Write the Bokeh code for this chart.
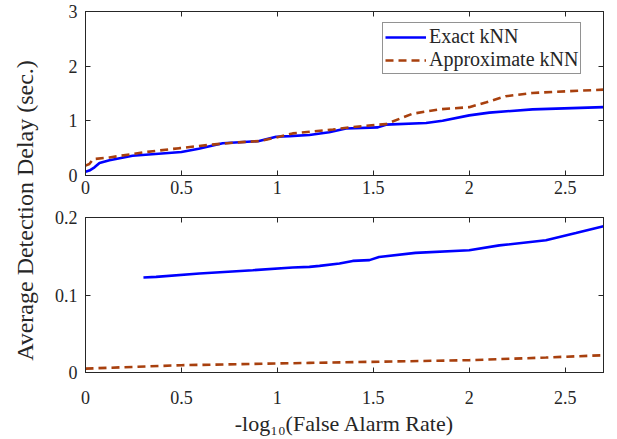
from math import pi
from bokeh.plotting import figure
from bokeh.models import Range1d, LinearAxis, FixedTicker, Label, Legend, LegendItem
from bokeh.layouts import row, column
from bokeh.embed import file_html
from bokeh.resources import INLINE

# ---------------- data ----------------
x_ticks = [0, 0.5, 1, 1.5, 2, 2.5]
x_tick_labels = ["0", "0.5", "1", "1.5", "2", "2.5"]
top_y_ticks = [0, 1, 2, 3]
top_y_tick_labels = ["0", "1", "2", "3"]
bot_y_ticks = [0, 0.1, 0.2]
bot_y_tick_labels = ["0", "0.1", "0.2"]

series_names = ["Exact kNN", "Approximate kNN"]
x_label = "-log\u2081\u2080(False Alarm Rate)"
y_label = "Average Detection Delay (sec.)"

# top panel
top_exact_x = [0, 0.02, 0.047, 0.073, 0.125, 0.245, 0.5, 0.59, 0.715, 0.905, 0.994,
               1.063, 1.167, 1.27, 1.358, 1.524, 1.566, 1.775, 1.861, 2.0, 2.105, 2.33, 2.7]
top_exact_y = [0.07, 0.09, 0.15, 0.23, 0.28, 0.36, 0.43, 0.49, 0.59, 0.63, 0.71,
               0.72, 0.74, 0.79, 0.86, 0.88, 0.93, 0.96, 1.00, 1.10, 1.15, 1.21, 1.25]
top_approx_x = [0, 0.02, 0.04, 0.125, 0.316, 0.49, 0.646, 0.768, 0.905, 0.99, 1.08,
                1.29, 1.376, 1.463, 1.566, 1.705, 1.845, 2.0, 2.09, 2.19, 2.33, 2.505, 2.7]
top_approx_y = [0.18, 0.21, 0.30, 0.33, 0.43, 0.50, 0.56, 0.60, 0.63, 0.69, 0.77,
                0.84, 0.88, 0.91, 0.94, 1.13, 1.21, 1.25, 1.34, 1.45, 1.51, 1.54, 1.57]

# bottom panel
bot_exact_x = [0.302, 0.368, 0.594, 0.872, 1.08, 1.167, 1.22, 1.324, 1.393, 1.48,
               1.53, 1.72, 2.0, 2.157, 2.4, 2.556, 2.7]
bot_exact_y = [0.1226, 0.1234, 0.1277, 0.1320, 0.1355, 0.1363, 0.1376, 0.1406, 0.1440,
               0.1450, 0.1490, 0.1544, 0.1578, 0.1640, 0.1707, 0.1800, 0.1888]
bot_approx_x = [0, 0.5, 1.167, 2.0, 2.4, 2.7]
bot_approx_y = [0.0050, 0.0094, 0.0124, 0.0159, 0.0193, 0.0223]

# ---------------- style ----------------
FONT = "Liberation Serif"
TXT = "#262626"
BLUE = "#0000FF"
RED = "#A8400E"


def style_axis(ax, ticks, labels, show_labels=True):
    ax.ticker = FixedTicker(ticks=ticks)
    ax.major_label_overrides = dict(zip(ticks, labels))
    ax.major_tick_in = 5
    ax.major_tick_out = 0
    ax.minor_tick_line_color = None
    ax.axis_line_color = TXT
    ax.major_tick_line_color = TXT
    ax.major_label_text_font = FONT
    ax.major_label_text_color = TXT
    if show_labels:
        ax.major_label_text_font_size = "18px"
    else:
        ax.major_label_text_font_size = "0px"
        ax.major_label_standoff = 0
        ax.major_label_text_color = None


def make_panel(y_range, yticks, ylabels, frame_h, mb_top, mb_bottom):
    p = figure(frame_width=518, frame_height=frame_h,
               x_range=Range1d(0, 2.7), y_range=y_range,
               min_border_left=38, min_border_right=5,
               min_border_top=mb_top, min_border_bottom=mb_bottom,
               toolbar_location=None, output_backend="svg")
    p.grid.visible = False
    p.outline_line_color = TXT
    p.background_fill_color = "white"
    p.border_fill_color = "white"
    bottom_ax = p.below[0]
    left_ax = p.left[0]
    style_axis(bottom_ax, x_ticks, x_tick_labels)
    style_axis(left_ax, yticks, ylabels)
    left_ax.major_label_standoff = 8
    top_ax = LinearAxis()
    style_axis(top_ax, x_ticks, x_tick_labels, show_labels=False)
    p.add_layout(top_ax, "above")
    right_ax = LinearAxis()
    style_axis(right_ax, yticks, ylabels, show_labels=False)
    p.add_layout(right_ax, "right")
    return p, bottom_ax


# top panel
TOP_FH = 164
p1, p1_bottom = make_panel(Range1d(0, 3), top_y_ticks, top_y_tick_labels, TOP_FH, 11, 29)
p1_bottom.major_label_standoff = 5
r1 = p1.line(top_exact_x, top_exact_y, line_color=BLUE, line_width=2.6)
r2 = p1.line(top_approx_x, top_approx_y, line_color=RED, line_width=2.6, line_dash="8 5")
legend = Legend(items=[LegendItem(label=series_names[0], renderers=[r1]),
                       LegendItem(label=series_names[1], renderers=[r2])],
                location=(297, TOP_FH - 63))
legend.margin = 0
legend.padding = 2
legend.spacing = 0
legend.glyph_width = 41
legend.label_standoff = 3
legend.label_text_font = FONT
legend.label_text_font_size = "20px"
legend.label_text_color = TXT
legend.border_line_color = TXT
legend.border_line_width = 1
legend.background_fill_color = "white"
legend.background_fill_alpha = 1.0
p1.add_layout(legend)

# bottom panel
p2, p2_bottom = make_panel(Range1d(0, 0.2), bot_y_ticks, bot_y_tick_labels, 155, 13, 64)
p2_bottom.major_label_standoff = 18
p2_bottom.axis_label = x_label
p2_bottom.axis_label_text_font = FONT
p2_bottom.axis_label_text_font_size = "22px"
p2_bottom.axis_label_text_font_style = "normal"
p2_bottom.axis_label_text_color = TXT
p2_bottom.axis_label_standoff = 4
p2.line(bot_exact_x, bot_exact_y, line_color=BLUE, line_width=2.6)
p2.line(bot_approx_x, bot_approx_y, line_color=RED, line_width=2.6, line_dash="8 5")

# shared y label
H = 430
lf = figure(width=47, height=H, x_range=(0, 1), y_range=(0, 1), min_border=0,
            toolbar_location=None, output_backend="svg")
lf.axis.visible = False
lf.grid.visible = False
lf.outline_line_color = None
lf.add_layout(Label(x=24, y=H - 210, x_units="screen", y_units="screen", text=y_label,
                    angle=pi / 2, text_align="center", text_baseline="middle",
                    text_font=FONT, text_font_size="24px", text_color=TXT))

layout = row(lf, column(p1, p2))
open("out.html", "w").write(file_html(layout, INLINE))
